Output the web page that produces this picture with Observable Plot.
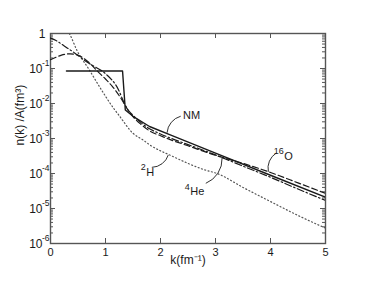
<!DOCTYPE html>
<html><head><meta charset="utf-8">
<script src="https://cdn.jsdelivr.net/npm/d3@7"></script>
<script src="https://cdn.jsdelivr.net/npm/@observablehq/plot@0.6"></script>
<style>body{margin:0;background:#fff;}</style>
</head><body><div id="chart"></div>
<script>
// ---- data ----
const xTicks = [0, 1, 2, 3, 4, 5];
const yMajor = [1e-6, 1e-5, 1e-4, 1e-3, 1e-2, 1e-1, 1];
const yTickBase = ["10", "10", "10", "10", "10", "10", "1"];
const yTickExp = ["-6", "-5", "-4", "-3", "-2", "-1", ""];
const xLabel = "k(fm⁻¹)";
const yLabel = "n(k) /A(fm³)";

// Nuclear matter (solid)
const nmK = [0.29, 1.31, 1.36, 1.5, 1.8, 2.2, 3.0, 4.0, 5.0];
const nmN = [8.5e-2, 8.5e-2, 6.5e-3, 4.3e-3, 2.2e-3, 1.23e-3, 3.8e-4, 8.9e-5, 2.1e-5];

// 16O (dashed)
const oK = [0, 0.1, 0.2, 0.36, 0.5, 0.7, 0.87, 1.0, 1.12, 1.3, 1.4, 1.5, 1.65, 1.8, 2.0, 2.2, 2.5, 3.0, 3.5, 4.0, 4.5, 5.0];
const oN = [0.178, 0.209, 0.24, 0.263, 0.24, 0.148, 0.079, 0.050, 0.0316, 0.0126, 6.8e-3, 4.2e-3, 2.5e-3, 1.66e-3, 1.2e-3, 9.0e-4, 6.2e-4, 3.3e-4, 1.95e-4, 1.07e-4, 5.4e-5, 2.7e-5];

// 4He (dash-dot)
const heK = [0, 0.1, 0.25, 0.45, 0.6, 0.75, 1.0, 1.24, 1.33, 1.4, 1.5, 1.65, 1.8, 2.0, 2.2, 2.5, 3.0, 3.5, 4.0, 4.5, 5.0];
const heN = [0.74, 0.63, 0.44, 0.27, 0.18, 0.126, 0.071, 0.024, 0.0112, 6.9e-3, 4.6e-3, 2.8e-3, 1.9e-3, 1.35e-3, 1.0e-3, 6.7e-4, 3.4e-4, 1.62e-4, 7.8e-5, 3.6e-5, 1.7e-5];

// 2H (dotted)
const dK = [0, 0.1, 0.2, 0.3, 0.36, 0.48, 0.69, 0.93, 1.15, 1.24, 1.5, 1.69, 1.81, 2.2, 2.81, 3.03, 3.5, 3.96, 4.54, 5.0];
const dN = [3.5, 3.2, 2.2, 1.3, 0.89, 0.33, 0.10, 0.024, 7.2e-3, 4.7e-3, 1.41e-3, 8.9e-4, 6.5e-4, 3.2e-4, 1.26e-4, 1.0e-4, 4.0e-5, 1.7e-5, 5.9e-6, 2.75e-6];

// curve labels (superscript + base) and leader lines
const labelSup = ["", "16", "4", "2"];
const labelBase = ["NM", "O", "He", "H"];
const labelSupDy = [0, -5, -4, -6];
const labelK = [2.41, 4.25, 2.54, 1.74];
const labelN = [4.7e-3, 3.1e-4, 3.1e-5, 1.05e-4];
const leadK1 = [2.36, 4.10, 2.83, 1.85];
const leadN1 = [4.3e-3, 3.8e-4, 5.3e-5, 1.5e-4];
const leadK2 = [2.12, 3.96, 3.12, 2.14];
const leadN2 = [1.5e-3, 1.15e-4, 2.7e-4, 3.3e-4];

// ---- build ----
const W = 367, H = 293, mL = 50, mR = 42, mT = 33, mB = 50;
const innerW = W - mL - mR, innerH = H - mT - mB;
const yMinor = yMajor.slice(0, -1).flatMap(d => [2,3,4,5,6,7,8,9].map(m => m * d));
const table = (ks, ns) => ks.map((k, i) => ({k, n: ns[i]}));
const yTicks = yMajor.map((v, i) => ({v, base: yTickBase[i], exp: yTickExp[i]}));
const labels = labelBase.map((t, i) => ({t, s: labelSup[i], sdy: labelSupDy[i], k: labelK[i], n: labelN[i]}));
const leaders = labelBase.map((t, i) => ({k1: leadK1[i], n1: leadN1[i], k2: leadK2[i], n2: leadN2[i]}));
const ink = "#1a1a1a";

const supMarks = [...new Set(labelSupDy)].filter(d => d !== 0).map(dy =>
  Plot.text(labels.filter(d => d.sdy === dy && d.s), {x: "k", y: "n", text: "s", textAnchor: "end", dx: -0.5, dy, fontSize: 9, fill: ink}));

const chart = Plot.plot({
  width: W, height: H,
  marginLeft: mL, marginRight: mR, marginTop: mT, marginBottom: mB,
  style: {fontFamily: "'Liberation Sans', Arial, sans-serif", fontSize: "11px", color: ink, background: "#fff"},
  x: {domain: [0, 5]},
  y: {type: "log", domain: [1e-6, 1], axis: null},
  marks: [
    Plot.frame({stroke: "#555", strokeWidth: 1.4}),
    Plot.ruleX(xTicks, {x: d => d, insetTop: innerH - 5, stroke: "#555"}),
    Plot.ruleX(xTicks, {x: d => d, insetBottom: innerH - 5, stroke: "#555"}),
    Plot.ruleY(yMajor, {y: d => d, insetRight: innerW - 5, stroke: "#555"}),
    Plot.ruleY(yMajor, {y: d => d, insetLeft: innerW - 5, stroke: "#555"}),
    Plot.ruleY(yMinor, {y: d => d, insetRight: innerW - 3, stroke: "#555"}),
    Plot.ruleY(yMinor, {y: d => d, insetLeft: innerW - 3, stroke: "#555"}),
    Plot.axisX(xTicks, {tickSize: 0, tickPadding: 5, label: null, fontSize: 11}),
    Plot.text(yTicks.filter(d => d.exp), {y: "v", text: "base", frameAnchor: "left", textAnchor: "end", dx: -8, dy: 1, fontSize: 12, fill: ink}),
    Plot.text(yTicks.filter(d => d.exp), {y: "v", text: "exp", frameAnchor: "left", textAnchor: "start", dx: -8.5, dy: -5, fontSize: 8.5, fill: ink}),
    Plot.text(yTicks.filter(d => !d.exp), {y: "v", text: "base", frameAnchor: "left", textAnchor: "end", dx: -5, dy: 1, fontSize: 12, fill: ink}),
    Plot.text([xLabel], {text: d => d, frameAnchor: "bottom", dy: 20, fontSize: 12}),
    Plot.text([yLabel], {text: d => d, frameAnchor: "left", dx: -30, dy: 7, rotate: -90, fontSize: 12}),
    Plot.line(table(dK, dN), {x: "k", y: "n", curve: "monotone-x", stroke: "#555", strokeWidth: 1.2, strokeDasharray: "1,2.5", clip: true}),
    Plot.line(table(oK, oN), {x: "k", y: "n", curve: "monotone-x", stroke: ink, strokeWidth: 1.2, strokeDasharray: "6,3", clip: true}),
    Plot.line(table(heK, heN), {x: "k", y: "n", curve: "monotone-x", stroke: ink, strokeWidth: 1.2, strokeDasharray: "7,2.5,1.5,2.5", clip: true}),
    Plot.line(table(nmK, nmN), {x: "k", y: "n", stroke: ink, strokeWidth: 1.4, clip: true}),
    Plot.arrow(leaders, {x1: "k1", y1: "n1", x2: "k2", y2: "n2", bend: -35, headLength: 0, stroke: ink, strokeWidth: 0.9}),
    Plot.text(labels, {x: "k", y: "n", text: "t", textAnchor: "start", fontSize: 11, fill: ink}),
    ...supMarks
  ]
});
document.getElementById("chart").appendChild(chart);
</script>
</body></html>
